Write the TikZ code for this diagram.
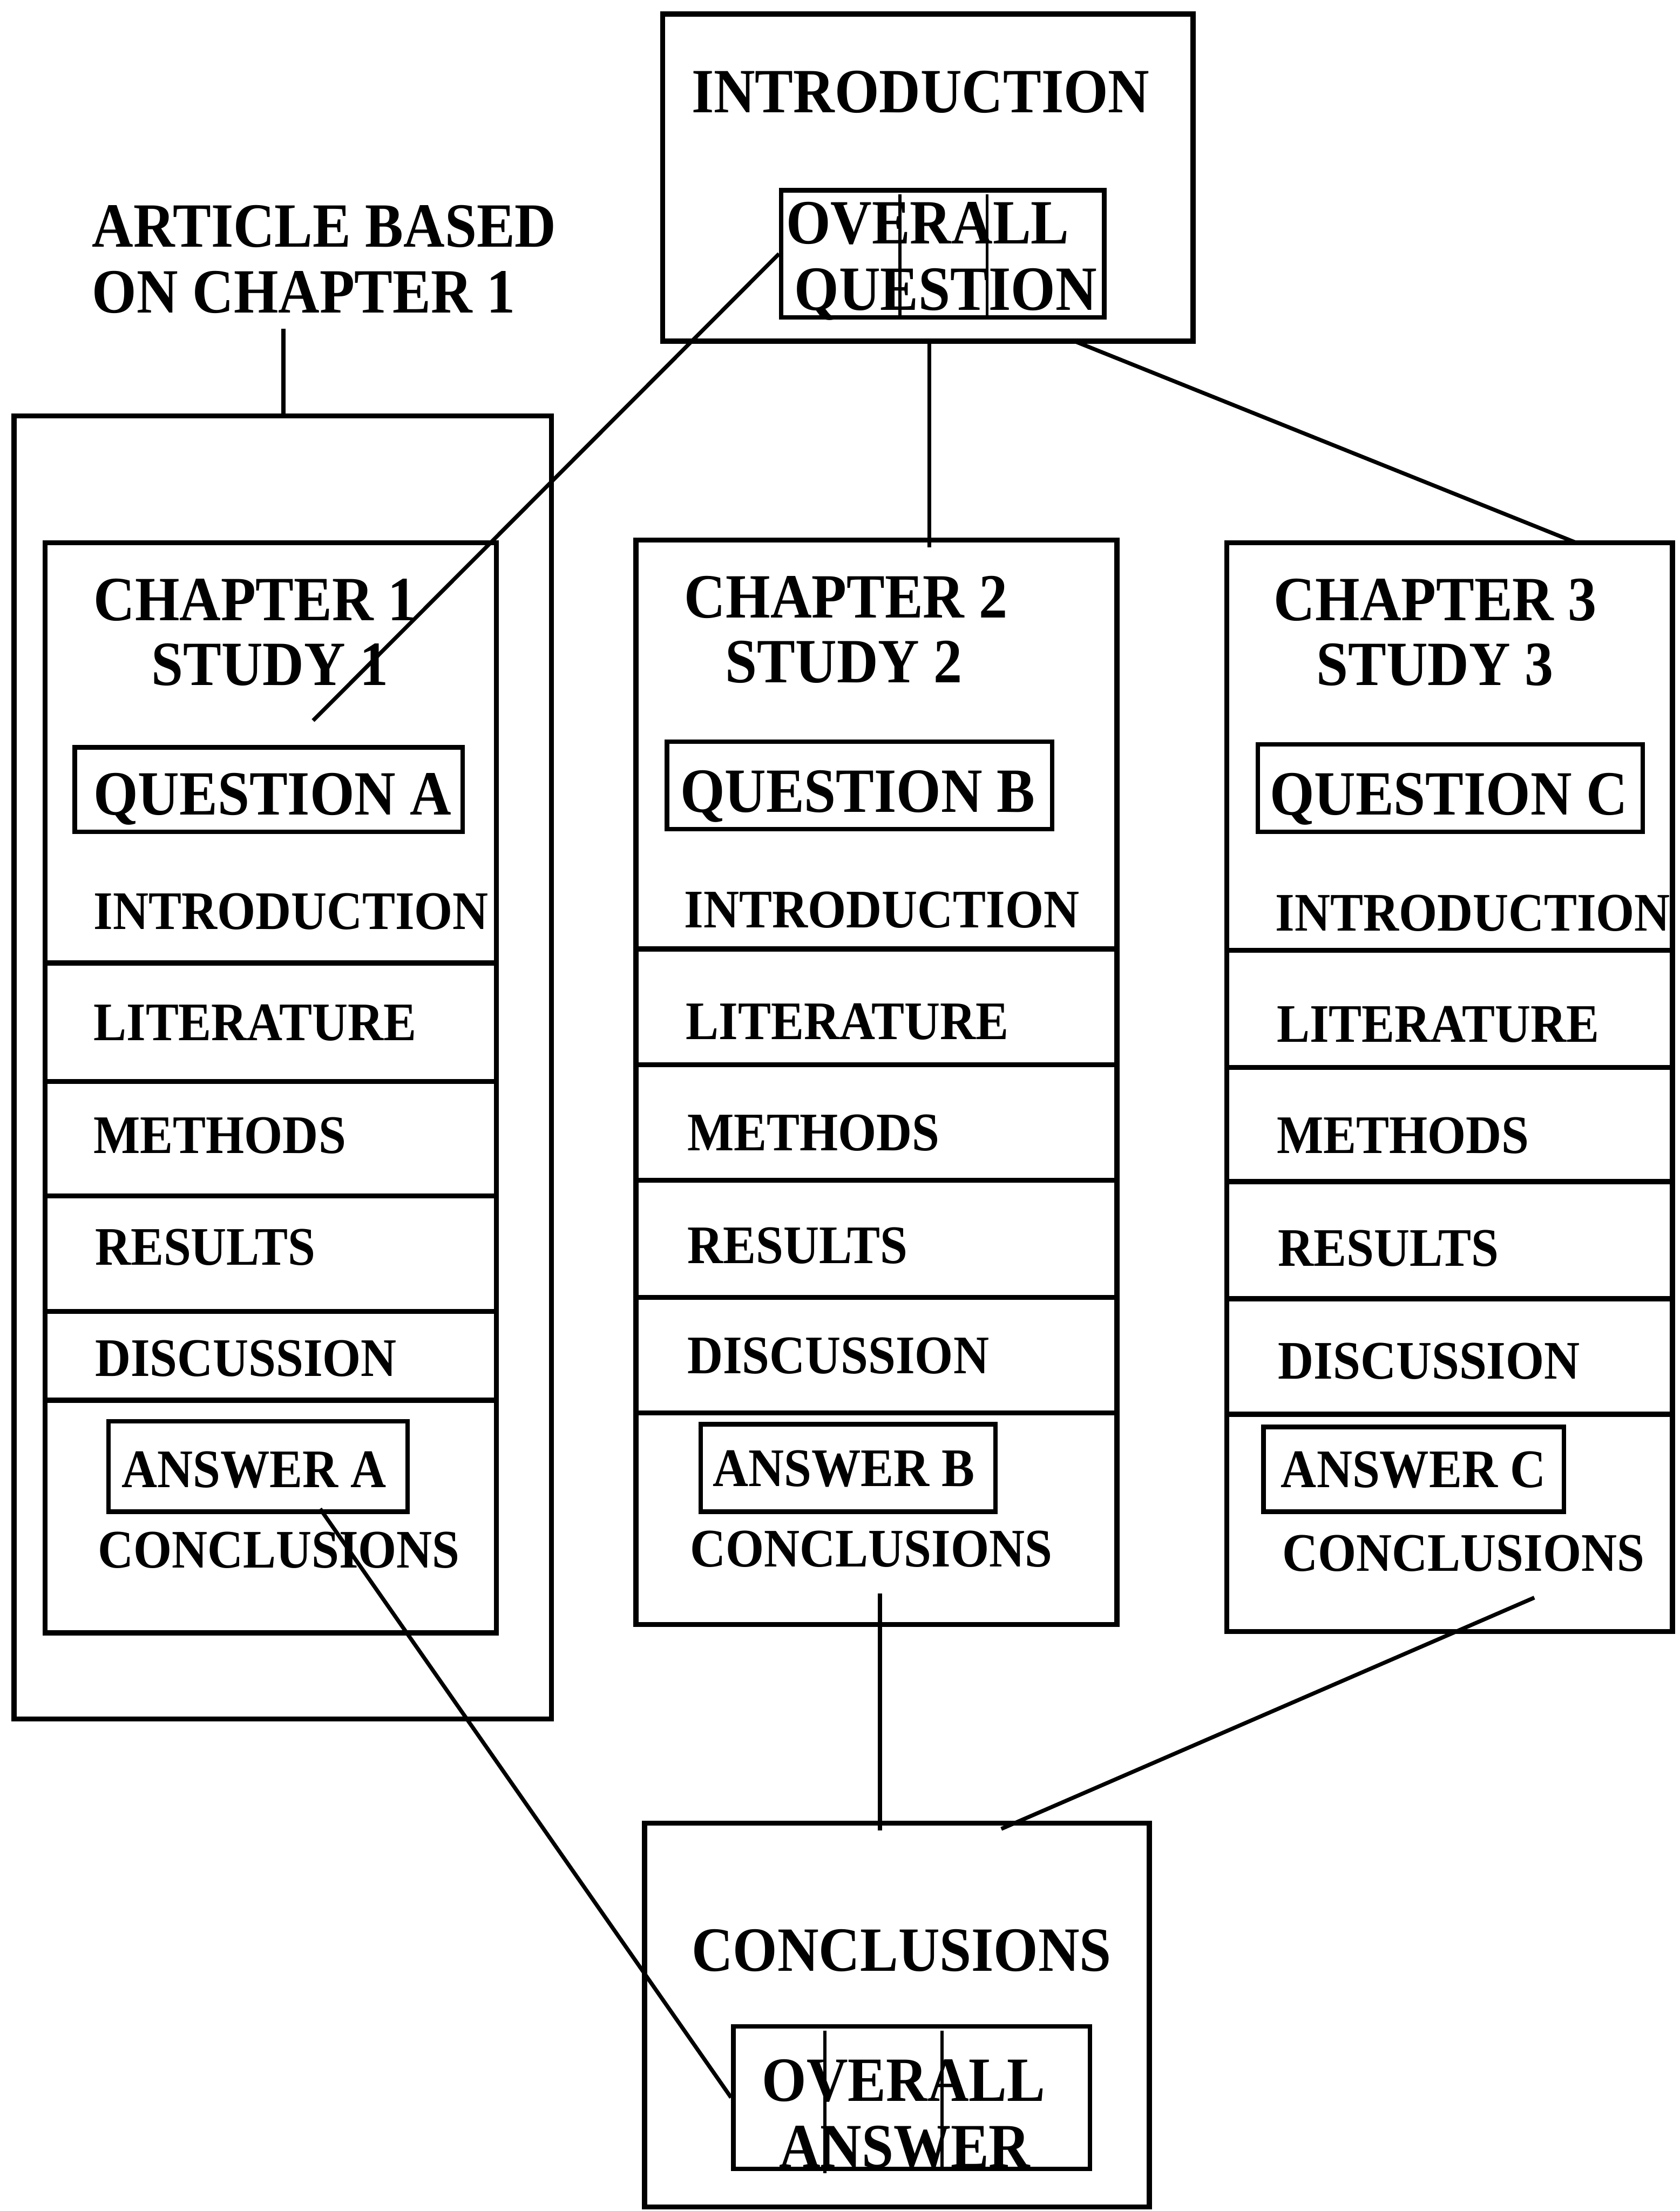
\documentclass[tikz,border=0pt]{standalone}
\usepackage{fontspec}
\setmainfont{Liberation Serif}
\usetikzlibrary{fit}
\newcommand{\vs}[1]{\scalebox{1}[1.1]{#1}}
\tikzset{
  box/.style={draw, line width=1.8pt, inner sep=0pt, rectangle},
  thinbox/.style={draw, line width=1.6pt, inner sep=0pt, rectangle},
  link/.style={line width=1.4pt},
  stroke/.style={line width=1.1pt},
  big/.style={inner sep=0pt, anchor=base west, font=\fontsize{20.3}{24}\selectfont\bfseries},
  small/.style={inner sep=0pt, anchor=base west, font=\fontsize{17.5}{21}\selectfont\bfseries}
}
\begin{document}
\begin{tikzpicture}[x=0.5pt,y=-0.5pt]
\useasboundingbox[fill=white] (0,0) rectangle (1191,1568);

% ---------- top introduction ----------
\node[box, fit={(470,10) (846,242)}] (intro) {};
\node[big] (introT) at (490,80) {\vs{INTRODUCTION}};
\node[thinbox, fit={(554,135) (783,225)}] (oq) {};
\node[big] (oqT1) at (557,173) {\vs{OVERALL}};
\node[big] (oqT2) at (563,220) {\vs{QUESTION}};
\draw[stroke] (638,138) -- (638,224);
\draw[stroke] (700,138) -- (700,224);

% ---------- article label ----------
\node[big] (art1) at (65,175) {\vs{ARTICLE BASED}};
\node[big] (art2) at (65,222) {\vs{ON CHAPTER 1}};
\coordinate (artpin) at (201,233);

% ---------- article box ----------
\node[box, fit={(10,295) (391,1219)}] (article) {};

% ---------- chapter 1 ----------
\node[box, fit={(32,385) (352,1158)}] (ch1) {};
\node[big] (ch1a) at (66,440) {\vs{CHAPTER 1}};
\node[big] (ch1b) at (107,486) {\vs{STUDY 1}};
\node[thinbox, fit={(53,530) (328,590)}] (qa) {};
\node[big] (qaT) at (66,578) {\vs{QUESTION A}};
\node[small] (ch1i) at (66,659) {\vs{INTRODUCTION}};
\node[small] (ch1l) at (66,738) {\vs{LITERATURE}};
\node[small] (ch1m) at (66,818) {\vs{METHODS}};
\node[small] (ch1r) at (67,897) {\vs{RESULTS}};
\node[small] (ch1d) at (67,976) {\vs{DISCUSSION}};
\node[thinbox, fit={(77,1008) (289,1072)}] (aa) {};
\node[small] (aaT) at (86,1055) {\vs{ANSWER A}};
\node[small] (ch1c) at (69,1112) {\vs{CONCLUSIONS}};
\foreach \y in {683,767,848,930,993} \draw[box] (32,\y) -- (352,\y);
\coordinate (qpin) at (222,511);

% ---------- chapter 2 ----------
\node[box, fit={(451,383) (792,1152)}] (ch2) {};
\node[big] (ch2a) at (485,438) {\vs{CHAPTER 2}};
\node[big] (ch2b) at (514,484) {\vs{STUDY 2}};
\node[thinbox, fit={(473,526) (746,588)}] (qb) {};
\node[big] (qbT) at (482,576) {\vs{QUESTION B}};
\node[small] (ch2i) at (485,658) {\vs{INTRODUCTION}};
\node[small] (ch2l) at (486,737) {\vs{LITERATURE}};
\node[small] (ch2m) at (487,816) {\vs{METHODS}};
\node[small] (ch2r) at (487,896) {\vs{RESULTS}};
\node[small] (ch2d) at (487,974) {\vs{DISCUSSION}};
\node[thinbox, fit={(497,1010) (706,1072)}] (ab) {};
\node[small] (abT) at (505,1054) {\vs{ANSWER B}};
\node[small] (ch2c) at (489,1111) {\vs{CONCLUSIONS}};
\foreach \y in {673,755,837,920,1002} \draw[box] (451,\y) -- (792,\y);
\coordinate (c2pin) at (624,1130);

% ---------- chapter 3 ----------
\node[box, fit={(870,385) (1186,1157)}] (ch3) {};
\node[big] (ch3a) at (903,440) {\vs{CHAPTER 3}};
\node[big] (ch3b) at (933,486) {\vs{STUDY 3}};
\node[thinbox, fit={(892,528) (1165,590)}] (qc) {};
\node[big] (qcT) at (900,578) {\vs{QUESTION C}};
\node[small] (ch3i) at (904,660) {\vs{INTRODUCTION}};
\node[small] (ch3l) at (905,739) {\vs{LITERATURE}};
\node[small] (ch3m) at (905,818) {\vs{METHODS}};
\node[small] (ch3r) at (906,898) {\vs{RESULTS}};
\node[small] (ch3d) at (906,978) {\vs{DISCUSSION}};
\node[thinbox, fit={(896,1012) (1109,1072)}] (ac) {};
\node[small] (acT) at (908,1055) {\vs{ANSWER C}};
\node[small] (ch3c) at (909,1114) {\vs{CONCLUSIONS}};
\foreach \y in {674,757,838,921,1003} \draw[box] (870,\y) -- (1186,\y);
\coordinate (c3pin) at (1088,1133);

% ---------- final conclusions ----------
\node[box, fit={(457,1293) (815,1565)}] (concl) {};
\node[big] (conclT) at (490,1398) {\vs{CONCLUSIONS}};
\node[thinbox, fit={(520,1437) (773,1538)}] (oa) {};
\node[big] (oaT1) at (540,1490) {\vs{OVERALL}};
\node[big] (oaT2) at (552,1537) {\vs{ANSWER}};
\draw[stroke] (585,1440) -- (585,1541);
\draw[stroke] (668,1440) -- (668,1538);

% ---------- connectors ----------
\draw[link] (artpin) -- (article.north -| artpin);
\draw[link] (oq.west) -- (qpin);
\draw[link] (intro.south -| 659,0) -- (659,388);
\draw[link] (762,242) -- (1118,385);
\draw[link] (227,1070) -- (oa.west);
\draw[link] (c2pin) -- (624,1298);
\draw[link] (c3pin) -- (710,1297);
\end{tikzpicture}
\end{document}
